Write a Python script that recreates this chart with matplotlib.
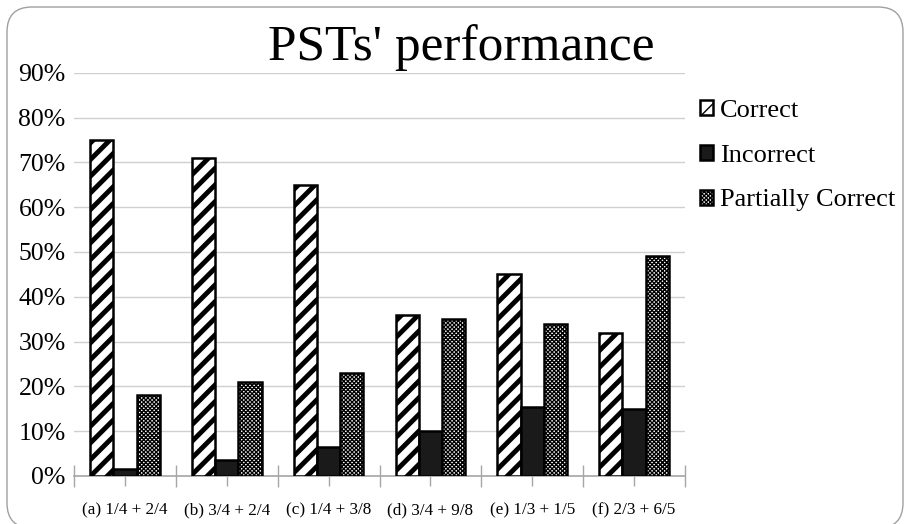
import numpy as np
import matplotlib
matplotlib.use("Agg")
import matplotlib.pyplot as plt
from matplotlib.patches import FancyBboxPatch
from matplotlib.transforms import IdentityTransform

plt.rcParams['font.family'] = ['Liberation Serif', 'DejaVu Serif']

categories = ['(a) 1/4 + 2/4', '(b) 3/4 + 2/4', '(c) 1/4 + 3/8',
              '(d) 3/4 + 9/8', '(e) 1/3 + 1/5', '(f) 2/3 + 6/5']
correct = [75, 71, 65, 36, 45, 32]
incorrect = [1.5, 3.5, 6.5, 10, 15.5, 15]
partial = [18, 21, 23, 35, 34, 49]
yticks = [0, 10, 20, 30, 40, 50, 60, 70, 80, 90]

fig = plt.figure(figsize=(9.05, 5.24), dpi=100)
ax = fig.add_axes([74 / 905, 1 - 476 / 524, (685 - 74) / 905, (476 - 72.7) / 524])

# rounded frame around the whole chart (pixel coords, origin bottom-left)
frame = FancyBboxPatch((7, -4), 896, 521,
                       boxstyle="round,pad=0,rounding_size=25",
                       transform=IdentityTransform(), facecolor='none',
                       edgecolor='#a0a0a0', linewidth=1)
fig.patches.append(frame)

x = np.arange(len(categories))
w = 0.228


def set_hatch_lw(bars, lw):
    for b in bars:
        if hasattr(b, 'set_hatch_linewidth'):
            b.set_hatch_linewidth(lw)


with plt.rc_context({'hatch.linewidth': 3.5}):
    b1 = ax.bar(x - w, correct, w, facecolor='white', edgecolor='black',
                hatch='//', linewidth=1.8, label='Correct', zorder=3)
set_hatch_lw(b1, 3.5)
b2 = ax.bar(x, incorrect, w, facecolor='#1a1a1a', edgecolor='black',
            linewidth=1.8, label='Incorrect', zorder=3)
with plt.rc_context({'hatch.linewidth': 1.0}):
    b3 = ax.bar(x + w, partial, w, facecolor='white', edgecolor='black',
                hatch='xxxxxxxx', linewidth=1.8, label='Partially Correct', zorder=3)
set_hatch_lw(b3, 1.0)

ax.set_xlim(-0.5, 5.5)
ax.set_ylim(0, 90)
ax.set_yticks(yticks)
ax.set_yticklabels([f'{t}%' for t in yticks], fontsize=18.5)
ax.tick_params(axis='y', length=0, pad=6)
ax.yaxis.grid(True, color='#d0d0d0', linewidth=1)
ax.set_axisbelow(True)

ax.set_xticks(np.arange(-0.5, 6, 1))
ax.set_xticklabels([])
ax.set_xticks(x, minor=True)
ax.set_xticklabels(categories, minor=True, fontsize=12.3)
ax.tick_params(axis='x', which='major', direction='inout', length=16,
               color='#a6a6a6', width=1)
ax.tick_params(axis='x', which='minor', direction='out', length=7,
               color='#a6a6a6', width=1, pad=12)

for s in ['top', 'right', 'left']:
    ax.spines[s].set_visible(False)
ax.spines['bottom'].set_color('#a6a6a6')
ax.spines['bottom'].set_linewidth(1.2)

fig.text(461 / 905, 1 - 60 / 524, "PSTs' performance", fontsize=37,
         ha='center', va='baseline')

ax.legend(loc='upper left', bbox_to_anchor=(700 / 905, 1 - 100 / 524),
          bbox_transform=fig.transFigure, frameon=False, fontsize=19,
          handlelength=0.5, handleheight=0.5, handletextpad=0.25,
          labelspacing=0.86, borderaxespad=0, borderpad=0)

fig.savefig('out.png', dpi=100)
